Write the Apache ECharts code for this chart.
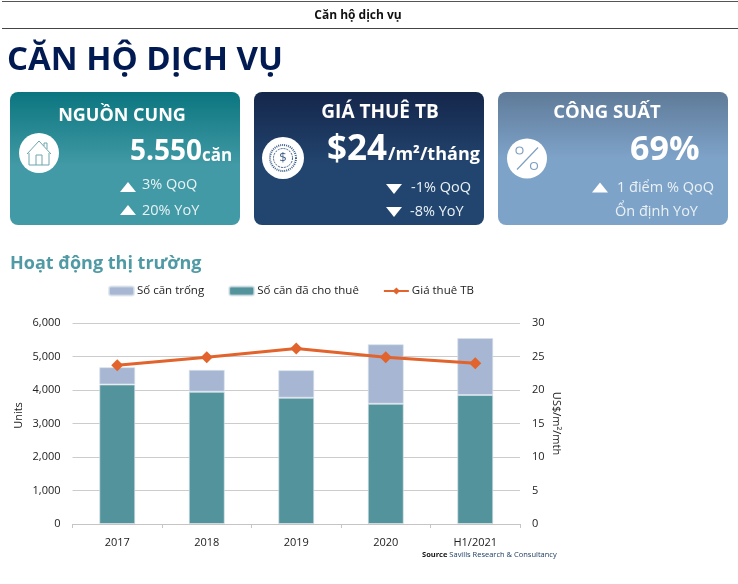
<!DOCTYPE html>
<html>
<head>
<meta charset="utf-8">
<title>Căn hộ dịch vụ</title>
<style>
  html, body { margin: 0; padding: 0; background: #fff; }
  #main { width: 738px; height: 584px; }
</style>
<script src="https://cdn.jsdelivr.net/npm/echarts@6/dist/echarts.min.js"></script>
</head>
<body>
<div id="main"></div>
<script>
// du lieu bieu do
const categories = ['2017', '2018', '2019', '2020', 'H1/2021']
const vacantUnits = [516, 655, 823, 1775, 1700]
const rentedUnits = [4165, 3947, 3769, 3590, 3850]
const avgRent = [23.7, 24.9, 26.2, 24.9, 24.0]

const seriesNames = ['Số căn trống', 'Số căn đã cho thuê', 'Giá thuê TB']
const unitsTicks = ['0', '1,000', '2,000', '3,000', '4,000', '5,000', '6,000']

const font = '"Open Sans", "Noto Sans", sans-serif'
const white = '#ffffff'
const soft = '#e9f1f5'

function gradient(top, mid, stop) {
  return new echarts.graphic.LinearGradient(0, 0, 0, 1, [
    { offset: 0, color: top },
    { offset: stop, color: mid },
    { offset: 1, color: mid }
  ])
}

function text(x, y, str, size, opts) {
  return {
    type: 'text',
    x: x,
    y: y,
    style: Object.assign({
      text: str,
      fill: white,
      font: `${size}px ${font}`,
      textAlign: 'left',
      textVerticalAlign: 'middle'
    }, opts || {})
  }
}

function bold(x, y, str, size, opts) {
  return text(x, y, str, size, Object.assign({ font: `bold ${size}px ${font}` }, opts || {}))
}

function small(x, y, str) {
  return text(x, y, str, 14.5, { fill: soft })
}

function triangle(x, y, up) {
  const pts = up
    ? [[x - 8, y + 5], [x, y - 5], [x + 8, y + 5]]
    : [[x - 8, y - 5], [x + 8, y - 5], [x, y + 5]]
  return { type: 'polygon', shape: { points: pts }, style: { fill: white } }
}

function card(x, fill) {
  return {
    type: 'rect',
    shape: { x: x, y: 92, width: 230, height: 133, r: 8 },
    style: { fill: fill }
  }
}

function circle(cx, cy, r) {
  return { type: 'circle', shape: { cx: cx, cy: cy, r: r }, style: { fill: white } }
}

// icon ngoi nha
function houseIcon(cx, cy, color) {
  const line = { stroke: color, lineWidth: 1, fill: null }
  return [
    { type: 'polyline', shape: { points: [[cx - 12, cy + 1], [cx, cy - 12], [cx + 12, cy + 1]] }, style: line },
    { type: 'polyline', shape: { points: [[cx - 10, cy], [cx - 10, cy + 12], [cx + 10, cy + 12], [cx + 10, cy]] }, style: line },
    { type: 'polyline', shape: { points: [[cx - 3, cy + 12], [cx - 3, cy + 2], [cx + 3, cy + 2], [cx + 3, cy + 12]] }, style: line },
    { type: 'polyline', shape: { points: [[cx + 5, cy - 7], [cx + 5, cy - 10], [cx + 8, cy - 10], [cx + 8, cy - 4]] }, style: line }
  ]
}

// icon dong xu
function coinIcon(cx, cy, color) {
  return [
    { type: 'circle', shape: { cx: cx, cy: cy, r: 13 }, style: { fill: null, stroke: color, lineWidth: 2, lineDash: [1, 1] } },
    { type: 'circle', shape: { cx: cx, cy: cy, r: 9.5 }, style: { fill: null, stroke: color, lineWidth: 1, lineDash: [2, 1] } },
    text(cx, cy, '$', 13, { fill: color, textAlign: 'center' })
  ]
}

// icon phan tram
function percentIcon(cx, cy, color) {
  const line = { stroke: color, lineWidth: 1.2, fill: null }
  return [
    { type: 'line', shape: { x1: cx + 11, y1: cy - 11, x2: cx - 10, y2: cy + 11 }, style: line },
    { type: 'circle', shape: { cx: cx - 7.5, cy: cy - 8, r: 3.5 }, style: line },
    { type: 'circle', shape: { cx: cx + 7, cy: cy + 7.5, r: 3.5 }, style: line }
  ]
}

const graphics = [
  { type: 'line', shape: { x1: 2, y1: 1.5, x2: 738, y2: 1.5 }, style: { stroke: '#555', lineWidth: 1 } },
  { type: 'line', shape: { x1: 2, y1: 28.5, x2: 738, y2: 28.5 }, style: { stroke: '#444', lineWidth: 1 } },
  bold(358, 16, 'Căn hộ dịch vụ', 12, { fill: '#111', textAlign: 'center' }),
  bold(7, 61, 'CĂN HỘ DỊCH VỤ', 33, { fill: '#021a52' }),

  card(10, gradient('#0b757f', '#419aa5', 0.55)),
  card(254, gradient('#15264a', '#22456f', 0.55)),
  card(498, gradient('#5f7a98', '#7ea3c9', 0.5)),

  // the 1
  bold(122, 116, 'NGUỒN CUNG', 18, { textAlign: 'center' }),
  circle(39, 153, 20),
  ...houseIcon(39, 153, '#6da5ad'),
  bold(130, 152, '5.550', 28),
  bold(202, 156, 'căn', 17),
  triangle(128, 187, true),
  small(142, 185, '3% QoQ'),
  triangle(128, 210, true),
  small(142, 211, '20% YoY'),

  // the 2
  bold(380, 113, 'GIÁ THUÊ TB', 19, { textAlign: 'center' }),
  circle(283, 158, 21),
  ...coinIcon(283, 158, '#3f5f8a'),
  bold(327, 150, '$24', 35),
  bold(388, 155, '/m²/tháng', 18),
  triangle(394, 189, false),
  small(411, 188, '-1% QoQ'),
  triangle(394, 212, false),
  small(410, 212, '-8% YoY'),

  // the 3
  bold(607, 113, 'CÔNG SUẤT', 18.5, { textAlign: 'center' }),
  circle(527, 158.5, 20),
  ...percentIcon(527, 158.5, '#7f9fc2'),
  bold(630, 150, '69%', 34),
  triangle(600, 187.5, true),
  small(617, 188, '1 điểm % QoQ'),
  small(615, 212, 'Ổn định YoY'),

  bold(10, 264, 'Hoạt động thị trường', 18, { fill: '#4f9aa5' }),
  {
    type: 'text',
    x: 422,
    y: 555,
    style: {
      text: '{b|Source} Savills Research & Consultancy',
      rich: {
        b: { font: `bold 7.5px ${font}`, fill: '#111' }
      },
      font: `7.5px ${font}`,
      fill: '#17375e',
      textVerticalAlign: 'middle'
    }
  }
]

const axisText = { color: '#222', fontFamily: font, fontSize: 11 }

const option = {
  animation: false,
  backgroundColor: '#fff',
  textStyle: { fontFamily: font },
  graphic: { elements: graphics },
  legend: {
    left: 103,
    top: 280,
    itemWidth: 25,
    itemHeight: 9,
    itemGap: 24,
    textStyle: { color: '#222', fontFamily: font, fontSize: 11.5, padding: [0, 0, 0, -2] },
    data: seriesNames
  },
  grid: { left: 72.5, right: 218, top: 323, bottom: 60, containLabel: false, outerBoundsMode: 'none' },
  xAxis: {
    type: 'category',
    data: categories,
    axisTick: { show: true, alignWithLabel: false, length: 4, lineStyle: { color: '#c8c4c4' } },
    axisLine: { lineStyle: { color: '#c8c4c4' } },
    axisLabel: Object.assign({ margin: 13 }, axisText)
  },
  yAxis: [
    {
      type: 'value',
      min: 0,
      max: 6000,
      interval: 1000,
      name: 'Units',
      nameLocation: 'middle',
      nameGap: 48,
      nameMoveOverlap: false,
      nameTextStyle: Object.assign({ padding: [0, 0, 0, 16] }, axisText),
      axisLine: { show: false },
      axisTick: { show: false },
      splitLine: { lineStyle: { color: '#cccccc', width: 1 } },
      axisLabel: Object.assign({
        margin: 12,
        formatter: (v) => unitsTicks[v / 1000]
      }, axisText)
    },
    {
      type: 'value',
      min: 0,
      max: 30,
      interval: 5,
      name: 'US$/m²/mth',
      nameLocation: 'middle',
      nameRotate: -90,
      nameGap: 31,
      nameMoveOverlap: false,
      nameTextStyle: axisText,
      axisLine: { show: false },
      axisTick: { show: false },
      splitLine: { show: false },
      axisLabel: Object.assign({ margin: 12 }, axisText)
    }
  ],
  series: [
    {
      name: seriesNames[1],
      type: 'bar',
      stack: 'units',
      barWidth: 36,
      data: rentedUnits,
      itemStyle: { color: '#53939c', borderColor: 'rgba(215,225,232,0.7)', borderWidth: 1 }
    },
    {
      name: seriesNames[0],
      type: 'bar',
      stack: 'units',
      barWidth: 36,
      data: vacantUnits,
      itemStyle: { color: '#a6b6d3', borderColor: 'rgba(215,225,232,0.7)', borderWidth: 1 }
    },
    {
      name: seriesNames[2],
      type: 'line',
      yAxisIndex: 1,
      data: avgRent,
      symbol: 'diamond',
      symbolSize: 12,
      lineStyle: { color: '#e2632b', width: 3 },
      itemStyle: { color: '#e2632b' }
    }
  ]
}

const chart = echarts.init(document.getElementById('main'), null, { renderer: 'canvas' })
chart.setOption(option)
</script>
</body>
</html>
